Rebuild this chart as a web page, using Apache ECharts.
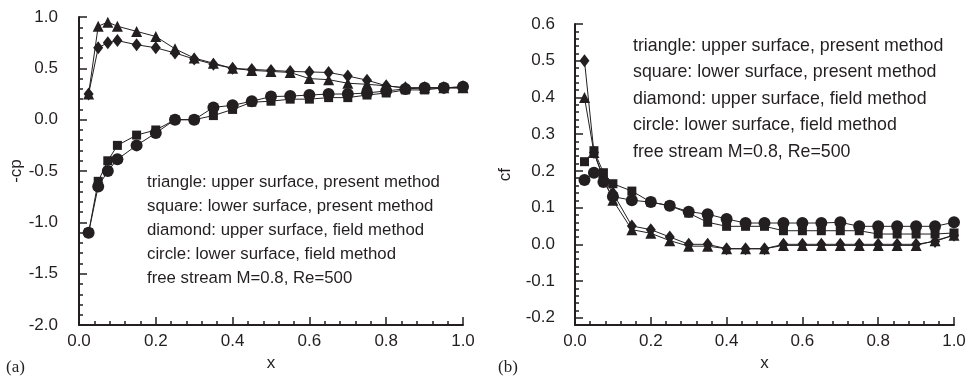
<!DOCTYPE html>
<html><head><meta charset="utf-8">
<script src="https://cdn.jsdelivr.net/npm/echarts@6/dist/echarts.min.js"></script>
<style>html,body{margin:0;padding:0;background:#fff}#c{width:970px;height:377px}</style>
</head><body><div id="c"></div>
<script>
// ---- data ----
const xPts = [0.025, 0.05, 0.075, 0.1, 0.15, 0.2, 0.25, 0.3, 0.35, 0.4, 0.45, 0.5, 0.55, 0.6, 0.65, 0.7, 0.75, 0.8, 0.85, 0.9, 0.95, 1.0];
// -cp
const cpTriangle = [0.25, 0.91, 0.95, 0.91, 0.86, 0.81, 0.69, 0.60, 0.55, 0.50, 0.48, 0.47, 0.46, 0.40, 0.39, 0.355, 0.345, 0.33, 0.31, 0.31, 0.31, 0.31];
const cpSquare   = [-1.10, -0.60, -0.40, -0.25, -0.15, -0.10, 0.0, 0.0, 0.04, 0.10, 0.17, 0.18, 0.20, 0.20, 0.215, 0.215, 0.24, 0.26, 0.29, 0.29, 0.31, 0.31];
const cpDiamond  = [0.25, 0.70, 0.75, 0.77, 0.73, 0.70, 0.65, 0.59, 0.54, 0.50, 0.49, 0.48, 0.47, 0.465, 0.46, 0.425, 0.385, 0.33, 0.31, 0.31, 0.31, 0.32];
const cpCircle   = [-1.10, -0.65, -0.50, -0.386, -0.25, -0.13, 0.0, 0.0, 0.12, 0.14, 0.18, 0.225, 0.23, 0.24, 0.25, 0.25, 0.26, 0.28, 0.30, 0.31, 0.31, 0.32];
// cf
const cfTriangle = [0.40, 0.25, 0.18, 0.12, 0.04, 0.03, 0.01, -0.005, -0.005, -0.012, -0.012, -0.012, -0.003, -0.003, -0.003, -0.003, -0.003, -0.003, -0.003, -0.003, 0.01, 0.025];
const cfSquare   = [0.225, 0.255, 0.195, 0.165, 0.145, 0.115, 0.105, 0.085, 0.06, 0.049, 0.049, 0.049, 0.037, 0.037, 0.037, 0.037, 0.037, 0.028, 0.028, 0.028, 0.028, 0.031];
const cfDiamond  = [0.50, 0.25, 0.18, 0.14, 0.05, 0.04, 0.02, 0.0, 0.0, -0.012, -0.012, -0.012, 0.0, 0.0, 0.0, 0.0, 0.0, 0.0, 0.0, 0.0, 0.008, 0.025];
const cfCircle   = [0.175, 0.195, 0.17, 0.13, 0.12, 0.115, 0.105, 0.089, 0.082, 0.069, 0.058, 0.058, 0.058, 0.058, 0.058, 0.060, 0.049, 0.049, 0.049, 0.049, 0.049, 0.060];
// tick labels
const cfMajorTicks = [-0.2, -0.1, 0.0, 0.1, 0.2, 0.3, 0.4, 0.5, 0.6];
const legendLines = ['triangle: upper surface, present method', 'square: lower surface, present method', 'diamond: upper surface, field method', 'circle: lower surface, field method', 'free stream M=0.8, Re=500'];

const INK = '#231f20';
const FONT = '"Liberation Sans", Arial, Helvetica, sans-serif';
const pair = a => a.map((v, i) => [xPts[i], v]);
const tickStyle = { color: INK, width: 1.5 };

function xAxisCfg(gi) {
  return {
    type: 'value', gridIndex: gi, min: 0, max: 1, interval: 0.2,
    name: 'x', nameLocation: 'middle', nameGap: 19,
    nameTextStyle: { color: INK, fontSize: 17, fontFamily: FONT },
    axisLine: { show: true, onZero: false, lineStyle: { color: INK, width: 2 } },
    axisTick: { show: true, inside: true, length: 8, lineStyle: tickStyle },
    minorTick: { show: true, splitNumber: 5, length: 4, lineStyle: tickStyle },
    axisLabel: { color: INK, fontSize: 17, fontFamily: FONT, margin: 8, formatter: v => v.toFixed(1) },
    splitLine: { show: false }
  };
}

function ser(name, data, sym, size, xi, yi) {
  return {
    name, type: 'line', xAxisIndex: xi, yAxisIndex: yi, data,
    symbol: sym, symbolSize: size, showSymbol: true,
    lineStyle: { color: INK, width: 1 },
    itemStyle: { color: INK, borderWidth: 0 },
    emphasis: { disabled: true }, animation: false, z: 3
  };
}

const chart = echarts.init(document.getElementById('c'), null, { renderer: 'canvas' });
const TRI = 'triangle', SQ = 'rect', DIA = 'diamond', CIR = 'circle';

chart.setOption({
  backgroundColor: '#fff',
  animation: false,
  grid: [
    { left: 79, top: 17, width: 384, height: 311 },
    { left: 575, top: 24, width: 379, height: 304 }
  ],
  xAxis: [xAxisCfg(0), xAxisCfg(1)],
  yAxis: [
    {
      type: 'value', gridIndex: 0, min: -2, max: 1, interval: 0.5,
      name: '-cp', nameLocation: 'middle', nameGap: 53, nameRotate: 90,
      nameTextStyle: { color: INK, fontSize: 17, fontFamily: FONT },
      axisLine: { show: true, onZero: false, lineStyle: { color: INK, width: 2 } },
      axisTick: { show: true, inside: true, length: 8, lineStyle: tickStyle },
      minorTick: { show: true, splitNumber: 5, length: 4, lineStyle: tickStyle },
      axisLabel: { color: INK, fontSize: 17, fontFamily: FONT, margin: 21, formatter: v => v.toFixed(1) },
      splitLine: { show: false }
    },
    {
      type: 'value', gridIndex: 1, min: -0.22, max: 0.6,
      name: 'cf', nameLocation: 'middle', nameGap: 61, nameRotate: 90,
      nameTextStyle: { color: INK, fontSize: 17, fontFamily: FONT },
      axisLine: { show: true, onZero: false, lineStyle: { color: INK, width: 2 } },
      axisTick: { show: true, inside: true, length: 8, customValues: cfMajorTicks, lineStyle: tickStyle },
      axisLabel: { color: INK, fontSize: 17, fontFamily: FONT, margin: 20, customValues: cfMajorTicks, formatter: v => v.toFixed(1) },
      splitLine: { show: false }
    },
    {
      type: 'value', gridIndex: 1, min: -0.22, max: 0.6, interval: 0.02, position: 'left',
      axisLine: { show: false },
      axisTick: { show: true, inside: true, length: 4, lineStyle: tickStyle },
      axisLabel: { show: false },
      splitLine: { show: false }
    }
  ],
  series: [
    ser('cp triangle', pair(cpTriangle), TRI, 11, 0, 0),
    ser('cp square', pair(cpSquare), SQ, 9, 0, 0),
    ser('cp diamond', pair(cpDiamond), DIA, [10, 13], 0, 0),
    ser('cp circle', pair(cpCircle), CIR, 12, 0, 0),
    ser('cf triangle', pair(cfTriangle), TRI, 11, 1, 1),
    ser('cf square', pair(cfSquare), SQ, 9, 1, 1),
    ser('cf diamond', pair(cfDiamond), DIA, [10, 13], 1, 1),
    ser('cf circle', pair(cfCircle), CIR, 12, 1, 1)
  ],
  graphic: [
    ...legendLines.map((t, i) => ({ type: 'text', left: 147, top: 174 + i * 24, style: { text: t, fill: INK, font: '16.8px ' + FONT } })),
    ...legendLines.map((t, i) => ({ type: 'text', left: 633, top: 37 + i * 26.5, style: { text: t, fill: INK, font: '17.8px ' + FONT } })),
    { type: 'text', left: 6, top: 359, style: { text: '(a)', fill: INK, font: '17px "Liberation Serif", "Times New Roman", serif' } },
    { type: 'text', left: 498, top: 359, style: { text: '(b)', fill: INK, font: '17px "Liberation Serif", "Times New Roman", serif' } }
  ]
});
</script></body></html>
